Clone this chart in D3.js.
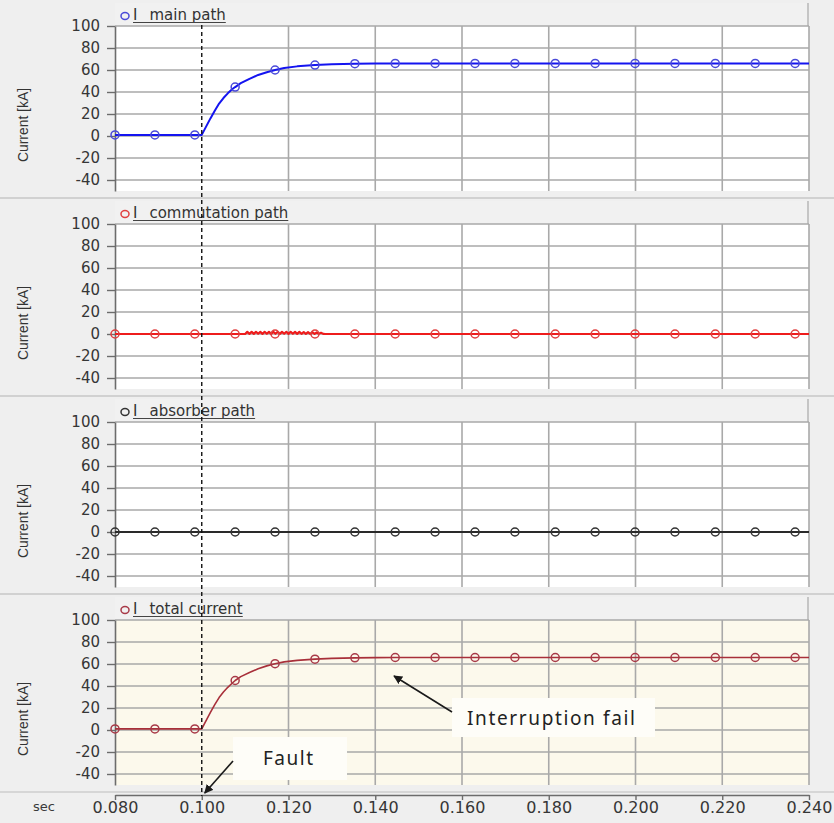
<!DOCTYPE html>
<html>
<head>
<meta charset="utf-8">
<script src="https://cdn.jsdelivr.net/npm/d3@7/dist/d3.min.js"></script>
<style>
  html, body { margin: 0; padding: 0; background: #efefef; }
  svg { display: block; }
</style>
</head>
<body>
<svg id="chart" width="834" height="823"></svg>
<script>
// ---- axis ticks ----
const xTicks = [0.080, 0.100, 0.120, 0.140, 0.160, 0.180, 0.200, 0.220, 0.240];
const xTickLabels = ["0.080", "0.100", "0.120", "0.140", "0.160", "0.180", "0.200", "0.220", "0.240"];
const yTicks = [100, 80, 60, 40, 20, 0, -20, -40];
const yTickLabels = ["100", "80", "60", "40", "20", "0", "-20", "-40"];
const xGrid = [0.120, 0.140, 0.160, 0.180, 0.200, 0.220, 0.240];

// ---- panel titles ----
const panelTitles = ["I main path", "I commutation path", "I absorber path", "I total current"];
const axisTitle = "Current [kA]";

// ---- series: [time s, current kA] ----
const mainPath = [
  [0.0800, 1], [0.1000, 1], [0.1010, 8.5], [0.1020, 16], [0.1030, 23], [0.1040, 29.5],
  [0.1050, 34.5], [0.1060, 38.8], [0.1070, 42.5], [0.1077, 44.5], [0.1090, 48], [0.1110, 52],
  [0.1130, 55.5], [0.1150, 58], [0.1169, 60], [0.1190, 61.8], [0.1220, 63.3], [0.1261, 64.5],
  [0.1300, 65.2], [0.1353, 65.7], [0.1400, 65.9], [0.1446, 66], [0.2400, 66]
];
const commutationPath = [
  [0.0800, 0], [0.1000, 0], [0.1100, 0], [0.1105, 1.9], [0.1110, 0.1], [0.1115, 2.0],
  [0.1120, 0.1], [0.1125, 2.0], [0.1130, 0.2], [0.1135, 1.9], [0.1140, 0.1], [0.1145, 2.0],
  [0.1150, 0.2], [0.1155, 1.9], [0.1160, 0.1], [0.1165, 2.0], [0.1170, 0.2], [0.1175, 2.0],
  [0.1180, 0.1], [0.1185, 1.9], [0.1190, 0.2], [0.1195, 2.0], [0.1200, 0.1], [0.1205, 2.0],
  [0.1210, 0.2], [0.1215, 1.9], [0.1220, 0.1], [0.1225, 1.9], [0.1230, 0.2], [0.1235, 1.8],
  [0.1240, 0.1], [0.1245, 1.7], [0.1250, 0.2], [0.1255, 1.6], [0.1260, 0.1], [0.1265, 1.4],
  [0.1270, 0.2], [0.1275, 1.1], [0.1280, 0.1], [0.1285, 0], [0.2400, 0]
];
const absorberPath = [[0.0800, 0], [0.2400, 0]];
const totalCurrent = [
  [0.0800, 1], [0.1000, 1], [0.1010, 8.5], [0.1020, 16], [0.1030, 23], [0.1040, 29.5],
  [0.1050, 34.5], [0.1060, 38.8], [0.1070, 42.5], [0.1077, 45], [0.1090, 48.5], [0.1110, 52.3],
  [0.1130, 55.7], [0.1150, 58.3], [0.1169, 60.3], [0.1190, 61.9], [0.1220, 63.3], [0.1261, 64.4],
  [0.1300, 65.1], [0.1353, 65.6], [0.1400, 65.8], [0.1446, 65.9], [0.2400, 65.9]
];

// ---- marker samples ----
const markerTimes = [0.0800, 0.0892, 0.0984, 0.1077, 0.1169, 0.1261, 0.1353, 0.1446, 0.1538,
  0.1630, 0.1722, 0.1815, 0.1907, 0.1999, 0.2091, 0.2184, 0.2276, 0.2368];
const mainMarkers = [1, 1, 1, 44.5, 60, 64.5, 65.7, 66, 66, 66, 66, 66, 66, 66, 66, 66, 66, 66];
const commutationMarkers = [0, 0, 0, 0, 0, 0, 0, 0, 0, 0, 0, 0, 0, 0, 0, 0, 0, 0];
const absorberMarkers = [0, 0, 0, 0, 0, 0, 0, 0, 0, 0, 0, 0, 0, 0, 0, 0, 0, 0];
const totalMarkers = [1, 1, 1, 45, 60.3, 64.4, 65.6, 65.9, 65.9, 65.9, 65.9, 65.9, 65.9, 65.9, 65.9, 65.9, 65.9, 65.9];

const faultTime = 0.100;

// ---- panel styling ----
const panels = [
  { title: panelTitles[0], data: mainPath, markers: mainMarkers, line: "#1414f0", marker: "#4a4ad8", width: 2, bg: "#ffffff" },
  { title: panelTitles[1], data: commutationPath, markers: commutationMarkers, line: "#ee1c1c", marker: "#e04040", width: 2.2, bg: "#ffffff" },
  { title: panelTitles[2], data: absorberPath, markers: absorberMarkers, line: "#2a2a2a", marker: "#333333", width: 2, bg: "#ffffff" },
  { title: panelTitles[3], data: totalCurrent, markers: totalMarkers, line: "#a8303a", marker: "#a83a48", width: 1.6, bg: "#fcf9ec" }
];

const W = 834, H = 823;
const left = 115, right = 809;
const panelStep = 198, plotTop0 = 26, plotH = 165;

const svg = d3.select("#chart");
const fontMain = "'DejaVu Sans', Verdana, sans-serif";

const x = d3.scaleLinear().domain([0.08, 0.24]).range([left, right]);

svg.append("rect").attr("width", W).attr("height", H).attr("fill", "#efefef");

panels.forEach((p, k) => {
  const top = plotTop0 + k * panelStep;
  const bottom = top + plotH;
  const y = d3.scaleLinear().domain([-50, 100]).range([bottom, top]);
  const g = svg.append("g");

  // separator between panels
  if (k > 0) {
    g.append("line").attr("x1", 0).attr("x2", W).attr("y1", top - 26).attr("y2", top - 26)
      .attr("stroke", "#b4b4b4").attr("stroke-width", 1.2);
  }
  // title strip
  g.append("rect").attr("x", left).attr("y", top - 23).attr("width", right - left).attr("height", 23)
    .attr("fill", "#f1f1f1");
  g.append("line").attr("x1", right - 1).attr("x2", right - 1).attr("y1", top - 23).attr("y2", top)
    .attr("stroke", "#a8a8a8").attr("stroke-width", 1.2);

  // plot area
  g.append("rect").attr("x", left).attr("y", top).attr("width", right - left).attr("height", bottom - top)
    .attr("fill", p.bg);

  // grid
  g.selectAll(".hg").data(yTicks).enter().append("line")
    .attr("x1", left).attr("x2", right).attr("y1", d => y(d)).attr("y2", d => y(d))
    .attr("stroke", "#a9a9a9").attr("stroke-width", 1.3);
  g.selectAll(".vg").data(xGrid).enter().append("line")
    .attr("x1", d => x(d)).attr("x2", d => x(d)).attr("y1", top).attr("y2", bottom)
    .attr("stroke", "#a9a9a9").attr("stroke-width", 1.6);

  // y axis
  const yAxis = d3.axisLeft(y).tickValues(yTicks).tickSize(8).tickSizeOuter(0).tickPadding(7)
    .tickFormat((d, i) => yTickLabels[i]);
  const ya = g.append("g").attr("transform", `translate(${left},0)`).call(yAxis);
  ya.select(".domain").attr("stroke", "#6c6c6c").attr("stroke-width", 1.6);
  ya.selectAll(".tick line").attr("stroke", "#6c6c6c").attr("stroke-width", 1.4);
  ya.selectAll(".tick text").attr("fill", "#363636").style("font-family", fontMain).style("font-size", "15px");

  // axis title
  g.append("text").attr("transform", `translate(28,${y(0) - 11}) rotate(-90)`)
    .attr("text-anchor", "middle").attr("fill", "#333")
    .attr("textLength", 74).attr("lengthAdjust", "spacingAndGlyphs")
    .style("font-family", "'Liberation Sans', Arial, sans-serif").style("font-size", "15px")
    .text(axisTitle);

  // legend
  g.append("ellipse").attr("cx", 125).attr("cy", top - 10).attr("rx", 4).attr("ry", 3.4)
    .attr("fill", "none").attr("stroke", p.marker).attr("stroke-width", 1.5);
  const parts = p.title.split(" ");
  const lt = g.append("text").attr("x", 133).attr("y", top - 6).attr("fill", "#333")
    .style("font-family", fontMain).style("font-size", "15px");
  lt.append("tspan").text(parts[0]);
  lt.append("tspan").attr("dx", 12).text(parts.slice(1).join(" "));
  const bb = lt.node().getBBox();
  g.append("line").attr("x1", bb.x).attr("x2", bb.x + bb.width).attr("y1", top - 3.5).attr("y2", top - 3.5)
    .attr("stroke", "#444").attr("stroke-width", 1.1);

  // series line
  const line = d3.line().x(d => x(d[0])).y(d => y(d[1]));
  g.append("path").datum(p.data).attr("d", line).attr("fill", "none")
    .attr("stroke", p.line).attr("stroke-width", p.width).attr("stroke-linejoin", "round");

  // markers
  g.selectAll(".mk").data(markerTimes).enter().append("circle")
    .attr("cx", d => x(d)).attr("cy", (d, i) => y(p.markers[i])).attr("r", 4)
    .attr("fill", "none").attr("stroke", p.marker).attr("stroke-width", 1.5);

  p.y = y;
});

// bottom axis
svg.append("line").attr("x1", 0).attr("x2", W).attr("y1", 792).attr("y2", 792)
  .attr("stroke", "#bdbdbd").attr("stroke-width", 1);
const xAxis = d3.axisBottom(x).tickValues(xTicks).tickSize(5).tickSizeOuter(0).tickPadding(2)
  .tickFormat((d, i) => xTickLabels[i]);
const xa = svg.append("g").attr("transform", "translate(0,795)").call(xAxis);
xa.select(".domain").attr("stroke", "#6c6c6c").attr("stroke-width", 1.4);
xa.selectAll(".tick line").attr("stroke", "#6c6c6c").attr("stroke-width", 1.4);
xa.selectAll(".tick text").attr("fill", "#363636").style("font-family", fontMain).style("font-size", "16px");
svg.append("text").attr("x", 44).attr("y", 811).attr("text-anchor", "middle").attr("fill", "#3a3a3a")
  .style("font-family", fontMain).style("font-size", "13px").text("sec");

// annotations in the total-current panel
const defs = svg.append("defs");
defs.append("marker").attr("id", "arrowHead").attr("viewBox", "0 0 10 10").attr("refX", 9).attr("refY", 5)
  .attr("markerWidth", 9).attr("markerHeight", 9).attr("markerUnits", "userSpaceOnUse").attr("orient", "auto")
  .append("path").attr("d", "M0,0 L10,5 L0,10 Z").attr("fill", "#1a1a1a");

const notes = svg.append("g");
notes.append("rect").attr("x", 233).attr("y", 737).attr("width", 114).attr("height", 43).attr("fill", "#fefdf8");
notes.append("text").attr("x", 288).attr("y", 765).attr("text-anchor", "middle").attr("fill", "#222")
  .attr("textLength", 50).style("font-family", "'Noto Sans', sans-serif").style("font-size", "19px").text("Fault");
notes.append("rect").attr("x", 452).attr("y", 698).attr("width", 203).attr("height", 39).attr("fill", "#fefdf8");
notes.append("text").attr("x", 551).attr("y", 725).attr("text-anchor", "middle").attr("fill", "#222")
  .attr("textLength", 168).style("font-family", "'Noto Sans', sans-serif").style("font-size", "19px").text("Interruption fail");

// fault instant
svg.append("line").attr("x1", x(faultTime)).attr("x2", x(faultTime)).attr("y1", 25).attr("y2", 796)
  .attr("stroke", "#111").attr("stroke-width", 1.4).attr("stroke-dasharray", "4,3");

notes.append("line").attr("x1", 233).attr("y1", 761).attr("x2", x(faultTime) + 3).attr("y2", 793)
  .attr("stroke", "#1a1a1a").attr("stroke-width", 1.6).attr("marker-end", "url(#arrowHead)");
notes.append("line").attr("x1", 452).attr("y1", 712).attr("x2", 394).attr("y2", 676)
  .attr("stroke", "#1a1a1a").attr("stroke-width", 1.6).attr("marker-end", "url(#arrowHead)");
</script>
</body>
</html>
